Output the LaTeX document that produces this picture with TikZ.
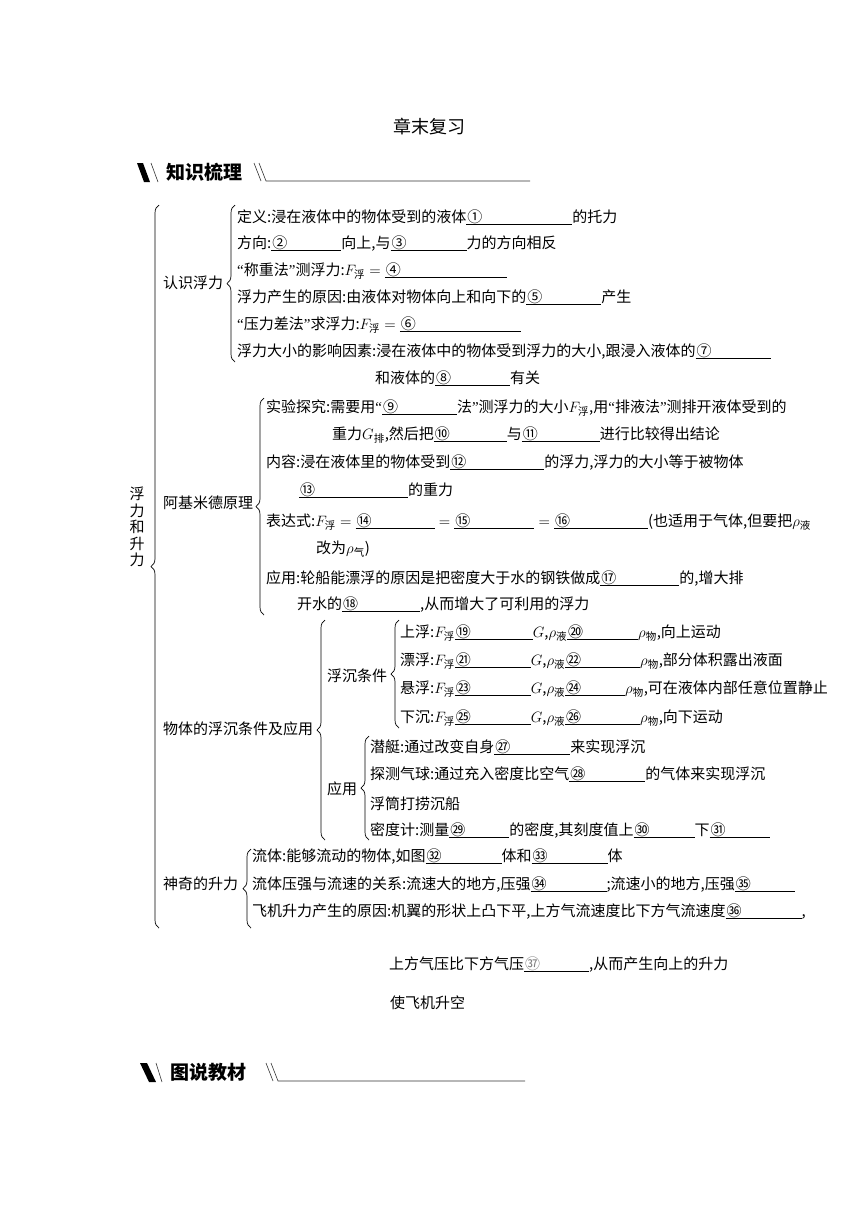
\RequirePackage{fix-cm}
\documentclass[tikz,border=0pt]{standalone}
\usepackage{amsmath}
\usepackage{fontspec}
\setmainfont{Noto Sans CJK SC}
\newfontfamily\qfont{Liberation Serif}
\usetikzlibrary{decorations.pathreplacing}

% blank to fill in: underline of given width, number at its left
\newcommand{\blank}[2]{\makebox[#1pt][l]{\rlap{\rule[-3pt]{#1pt}{0.7pt}}\hspace{1pt}#2}}
\newcommand{\Ff}{$F_{\text{浮}}$}
\newcommand{\lqt}{{\qfont “}}
\newcommand{\rqt}{{\qfont ”}}

\tikzset{
  item/.style={anchor=base west, inner sep=0pt, font=\fontsize{15}{17}\selectfont},
  topic/.style={item},
  sbrace/.style={decorate, decoration={brace, amplitude=8pt}, line width=0.7pt},
  headline/.style={line width=0.6pt, black!80},
}

\begin{document}
\begin{tikzpicture}[x=1pt,y=-1pt]
\useasboundingbox (0,0) rectangle (860,1216);

% title and section heads
\node[font=\fontsize{18}{20}\selectfont] (title) at (429,127) {章末复习};

\fill (137,163) -- (143,163) -- (150,182) -- (144,182) -- cycle;
\draw[headline] (151,163) -- (158,182);
\node[font=\fontsize{19}{21}\selectfont\bfseries] (hd1) at (204,172) {知识梳理};
\draw[headline] (254,163) -- (261,181);
\draw[headline] (259,163) -- (266,181) -- (530,181);

\fill (140,1063) -- (147,1063) -- (156,1082) -- (149,1082) -- cycle;
\draw[headline] (156,1063) -- (162,1082);
\node[font=\fontsize{19}{21}\selectfont\bfseries] (hd2) at (208,1072) {图说教材};
\draw[headline] (266,1063) -- (273,1081);
\draw[headline] (271,1063) -- (278,1081) -- (525,1081);

% root
\node[align=center, font=\fontsize{15}{16.5}\selectfont, inner sep=0pt] (root) at (137,527) {浮\\力\\和\\升\\力};
\coordinate (rootTop) at (159,205);
\coordinate (rootBot) at (159,928);
\draw[sbrace] (rootBot) -- (rootTop);

% 认识浮力
\node[topic] (rsfl) at (163,288) {认识浮力};
\coordinate (rsTop) at (235,205);
\coordinate (rsBot) at (235,362);
\draw[sbrace] (rsBot) -- (rsTop);
\node[item] (rs1) at (237,222) {定义:浸在液体中的物体受到的液体\blank{106}{①}的托力};
\node[item] (rs2) at (237,248) {方向:\blank{70}{②}向上,与\blank{76}{③}力的方向相反};
\node[item] (rs3) at (237,275) {\lqt 称重法\rqt 测浮力:\Ff${}={}$\blank{122}{④}};
\node[item] (rs4) at (237,302) {浮力产生的原因:由液体对物体向上和向下的\blank{75}{⑤}产生};
\node[item] (rs5) at (237,329) {\lqt 压力差法\rqt 求浮力:\Ff${}={}$\blank{121}{⑥}};
\node[item] (rs6) at (237,356) {浮力大小的影响因素:浸在液体中的物体受到浮力的大小,跟浸入液体的\blank{75}{⑦}};
\node[item] (rs7) at (375,383) {和液体的\blank{75}{⑧}有关};

% 阿基米德原理
\node[topic] (ajmd) at (163,508) {阿基米德原理};
\coordinate (ajTop) at (264,398);
\coordinate (ajBot) at (264,615);
\draw[sbrace] (ajBot) -- (ajTop);
\node[item] (aj1) at (266,412) {实验探究:需要用\lqt\blank{75}{⑨}法\rqt 测浮力的大小\Ff,用\lqt 排液法\rqt 测排开液体受到的};
\node[item] (aj2) at (332,439) {重力$G_{\text{排}}$,然后把\blank{73}{⑩}与\blank{78}{⑪}进行比较得出结论};
\node[item] (aj3) at (266,467) {内容:浸在液体里的物体受到\blank{94}{⑫}的浮力,浮力的大小等于被物体};
\node[item] (aj4) at (299,495) {\blank{109}{⑬}的重力};
\node[item] (aj5) at (266,526) {表达式:\Ff${}={}$\blank{79}{⑭}${}={}$\blank{80}{⑮}${}={}$\blank{94}{⑯}(也适用于气体,但要把$\rho_{\text{液}}$};
\node[item] (aj6) at (316,553) {改为$\rho_{\text{气}}$)};
\node[item] (aj7) at (266,583) {应用:轮船能漂浮的原因是把密度大于水的钢铁做成\blank{79}{⑰}的,增大排};
\node[item] (aj8) at (297,609) {开水的\blank{78}{⑱},从而增大了可利用的浮力};

% 物体的浮沉条件及应用
\node[topic] (fcyy) at (163,734) {物体的浮沉条件及应用};
\coordinate (fcTop) at (325,620);
\coordinate (fcBot) at (325,840);
\draw[sbrace] (fcBot) -- (fcTop);

\node[topic] (fctj) at (327,681) {浮沉条件};
\coordinate (tjTop) at (399,620);
\coordinate (tjBot) at (399,728);
\draw[sbrace] (tjBot) -- (tjTop);
\node[item] (tj1) at (400,637) {上浮:\Ff\blank{78}{⑲}$G$,$\rho_{\text{液}}$\blank{71}{⑳}$\rho_{\text{物}}$,向上运动};
\node[item] (tj2) at (400,665) {漂浮:\Ff\blank{76}{㉑}$G$,$\rho_{\text{液}}$\blank{75}{㉒}$\rho_{\text{物}}$,部分体积露出液面};
\node[item] (tj3) at (400,693) {悬浮:\Ff\blank{76}{㉓}$G$,$\rho_{\text{液}}$\blank{60}{㉔}$\rho_{\text{物}}$,可在液体内部任意位置静止};
\node[item] (tj4) at (400,722) {下沉:\Ff\blank{76}{㉕}$G$,$\rho_{\text{液}}$\blank{75}{㉖}$\rho_{\text{物}}$,向下运动};

\node[topic] (yy) at (327,794) {应用};
\coordinate (yyTop) at (369,736);
\coordinate (yyBot) at (369,840);
\draw[sbrace] (yyBot) -- (yyTop);
\node[item] (yy1) at (370,752) {潜艇:通过改变自身\blank{76}{㉗}来实现浮沉};
\node[item] (yy2) at (370,779) {探测气球:通过充入密度比空气\blank{76}{㉘}的气体来实现浮沉};
\node[item] (yy3) at (370,809) {浮筒打捞沉船};
\node[item] (yy4) at (370,835) {密度计:测量\blank{60}{㉙}的密度,其刻度值上\blank{61}{㉚}下\blank{60}{㉛}};

% 神奇的升力
\node[topic] (sqsl) at (163,889) {神奇的升力};
\coordinate (slTop) at (251,849);
\coordinate (slBot) at (251,928);
\draw[sbrace] (slBot) -- (slTop);
\node[item] (sl1) at (252,861) {流体:能够流动的物体,如图\blank{76}{㉜}体和\blank{76}{㉝}体};
\node[item] (sl2) at (252,889) {流体压强与流速的关系:流速大的地方,压强\blank{76}{㉞};流速小的地方,压强\blank{60}{㉟}};
\node[item] (sl3) at (252,916) {飞机升力产生的原因:机翼的形状上凸下平,上方气流速度比下方气流速度\blank{76}{㊱},};
\node[item] (sl4) at (389,969) {上方气压比下方气压\blank{65}{\textcolor{gray}{㊲}},从而产生向上的升力};
\node[item] (sl5) at (390,1008) {使飞机升空};
\end{tikzpicture}
\end{document}
